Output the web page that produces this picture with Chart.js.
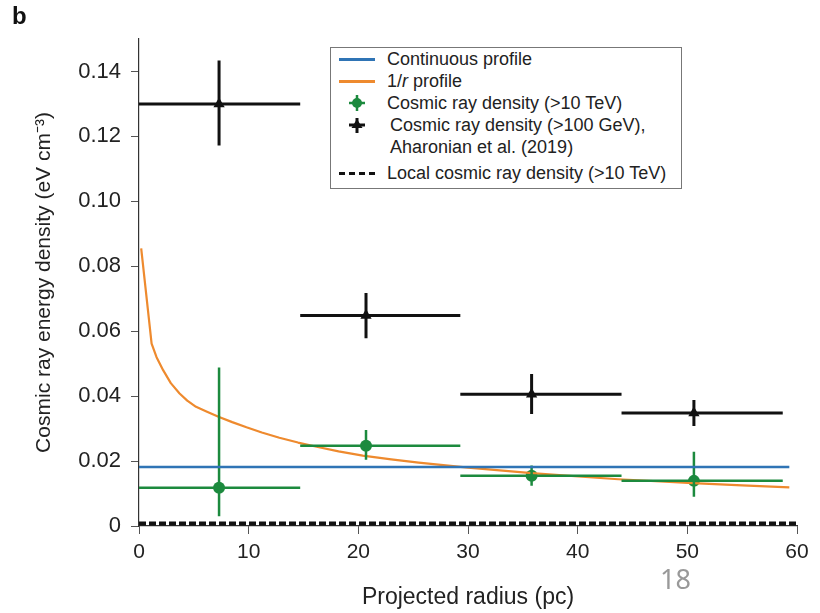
<!DOCTYPE html>
<html>
<head>
<meta charset="utf-8">
<script src="https://cdn.jsdelivr.net/npm/chart.js@4.4.1/dist/chart.umd.min.js"></script>
<style>
  body { margin: 0; background: #fff; font-family: "Liberation Sans", Arial, sans-serif; }
  #wrap { position: relative; width: 820px; height: 613px; }
  #panel { position: absolute; left: 12px; top: 2px; font-weight: bold; font-size: 24px; color: #111; }
  #page { position: absolute; left: 660px; top: 560px; font-size: 27px; color: #999; font-family: "Noto Sans", sans-serif; }
  #legend { position: absolute; left: 330px; top: 47px; width: 352px; height: 142px; border: 1px solid #777;
            background: #fff; box-sizing: border-box; font-size: 18px; color: #222; }
  .row { position: absolute; left: 0; height: 20px; line-height: 20px; white-space: nowrap; }
  .row span { position: absolute; left: 56px; }
  .sw { position: absolute; left: 8px; top: 9px; width: 36px; height: 3px; }
</style>
</head>
<body>
<div id="wrap">
  <canvas id="chart" width="820" height="613"></canvas>
  <div id="panel">b</div>
  <div id="legend">
    <div class="row" style="top:1px"><div class="sw" style="background:#2f74b5"></div><span>Continuous profile</span></div>
    <div class="row" style="top:23px"><div class="sw" style="background:#ee8a2e"></div><span>1/<i>r</i> profile</span></div>
    <div class="row" style="top:45px">
      <svg style="position:absolute;left:16px;top:0" width="20" height="20"><line x1="10" y1="2" x2="10" y2="18" stroke="#1c8a3e" stroke-width="2.5"/><line x1="2" y1="10" x2="18" y2="10" stroke="#1c8a3e" stroke-width="2.5"/><circle cx="10" cy="10" r="5" fill="#1c8a3e"/></svg>
      <span>Cosmic ray density (&gt;10 TeV)</span></div>
    <div class="row" style="top:67px">
      <svg style="position:absolute;left:16px;top:0" width="20" height="20"><line x1="10" y1="3" x2="10" y2="18" stroke="#111" stroke-width="3"/><line x1="2" y1="10" x2="18" y2="10" stroke="#111" stroke-width="3"/><polygon points="10,4 15.5,13 4.5,13" fill="#111"/></svg>
      <span style="left:59px">Cosmic ray density (&gt;100 GeV),</span></div>
    <div class="row" style="top:89px"><span style="left:59px">Aharonian et al. (2019)</span></div>
    <div class="row" style="top:115px"><div class="sw" style="height:0;border-top:3px dashed #111;background:none"></div><span>Local cosmic ray density (&gt;10 TeV)</span></div>
  </div>
  <div id="page">18</div>
</div>
<script>
// radial bins (pc)
const binLo = [0, 14.7, 29.3, 44.0];
const binHi = [14.7, 29.3, 44.0, 58.7];
const binCentre = [7.3, 20.7, 35.8, 50.6];

// cosmic ray density >10 TeV (eV cm^-3)
const tevDensity = [0.0118, 0.0247, 0.0155, 0.0139];
const tevLow = [0.0030, 0.0204, 0.0124, 0.0090];
const tevHigh = [0.0488, 0.0296, 0.0186, 0.0229];

// cosmic ray density >100 GeV, Aharonian et al. (2019)
const gevDensity = [0.1300, 0.0648, 0.0406, 0.0348];
const gevLow = [0.1172, 0.0578, 0.0345, 0.0308];
const gevHigh = [0.1434, 0.0718, 0.0468, 0.0388];

// 1/r profile
const profileR = [0.2, 1.15, 1.6, 2.2, 2.9, 3.7, 4.4, 5.2, 6.2, 7.3, 8.5, 9.8, 11.2, 12.8, 14.5, 16.2, 18.2, 20.4, 23.0, 25.5, 30.0, 35.8, 43.7, 50.5, 55.0, 59.3];
const profileVal = [0.0855, 0.0562, 0.0520, 0.0480, 0.0440, 0.0408, 0.0386, 0.0367, 0.0352, 0.0336, 0.0320, 0.0304, 0.0288, 0.0272, 0.0257, 0.0244, 0.0230, 0.0217, 0.0205, 0.0195, 0.0180, 0.0163, 0.0144, 0.0132, 0.0125, 0.0119];

// continuous profile and local density
const continuousR = [0, 59.3];
const continuousVal = [0.0182, 0.0182];
const localR = [0, 60];
const localVal = [0.0008, 0.0008];

const xTicks = [0, 10, 20, 30, 40, 50, 60];

const BLUE = '#2f74b5', ORANGE = '#ee8a2e', GREEN = '#1c8a3e', BLACK = '#111111';

function xy(xs, ys) {
    return xs.map((x, k) => ({x: x, y: ys[k]}));
}

// error bar segments, separated by gaps
function errorBars(centre, val, lo, hi) {
    const pts = [];
    for (let k = 0; k < centre.length; k++) {
        pts.push({x: binLo[k], y: val[k]}, {x: binHi[k], y: val[k]}, {x: binHi[k], y: null});
        pts.push({x: centre[k], y: lo[k]}, {x: centre[k], y: hi[k]}, {x: centre[k], y: null});
    }
    return pts;
}

function lineSet(data, color, width, extra) {
    return Object.assign({
        type: 'line', data: data, borderColor: color, borderWidth: width,
        pointRadius: 0, fill: false, spanGaps: false, tension: 0
    }, extra || {});
}

const ctx = document.getElementById('chart');
new Chart(ctx, {
    type: 'scatter',
    data: {
        datasets: [
            lineSet(xy(localR, localVal), BLACK, 4, {borderDash: [7, 3]}),
            lineSet(xy(continuousR, continuousVal), BLUE, 2.5),
            lineSet(errorBars(binCentre, tevDensity, tevLow, tevHigh), GREEN, 2.5),
            lineSet(xy(profileR, profileVal), ORANGE, 2.2, {borderJoinStyle: 'round'}),
            lineSet(errorBars(binCentre, gevDensity, gevLow, gevHigh), BLACK, 3),
            {
                data: xy(binCentre, tevDensity), pointStyle: 'circle', pointRadius: 6,
                backgroundColor: GREEN, borderColor: GREEN, borderWidth: 0
            },
            {
                data: xy(binCentre, gevDensity), pointStyle: 'triangle', pointRadius: 6.5,
                backgroundColor: BLACK, borderColor: BLACK, borderWidth: 0
            }
        ]
    },
    options: {
        responsive: false,
        animation: false,
        layout: {padding: {left: 0, right: 23, top: 39, bottom: 0}},
        plugins: {legend: {display: false}, tooltip: {enabled: false}},
        scales: {
            x: {
                type: 'linear', min: 0, max: 60,
                afterFit: s => { s.height = 87; },
                afterBuildTicks: s => { s.ticks = xTicks.map(v => ({value: v})); },
                grid: {drawOnChartArea: false, drawTicks: true, tickLength: 8, color: '#555'},
                border: {color: '#333', width: 1.2},
                ticks: {color: '#222', font: {family: 'Liberation Sans', size: 21}, padding: 6},
                title: {display: true, text: 'Projected radius (pc)', color: '#222',
                        font: {family: 'Liberation Sans', size: 23}, padding: {top: 0, bottom: 2}}
            },
            y: {
                min: 0, max: 0.15,
                afterFit: s => { s.width = 139; },
                grid: {drawOnChartArea: false, drawTicks: true, tickLength: 8, color: '#555'},
                border: {color: '#333', width: 1.2},
                ticks: {stepSize: 0.02, includeBounds: false, color: '#222', padding: 10,
                        font: {family: 'Liberation Sans', size: 22},
                        callback: v => v === 0 ? '0' : v.toFixed(2)},
                title: {display: true, text: 'Cosmic ray energy density (eV cm\u207B\u00B3)', color: '#222',
                        font: {family: 'Liberation Sans', size: 21}, padding: {top: 32, bottom: 0}}
            }
        }
    }
});
</script>
</body>
</html>
